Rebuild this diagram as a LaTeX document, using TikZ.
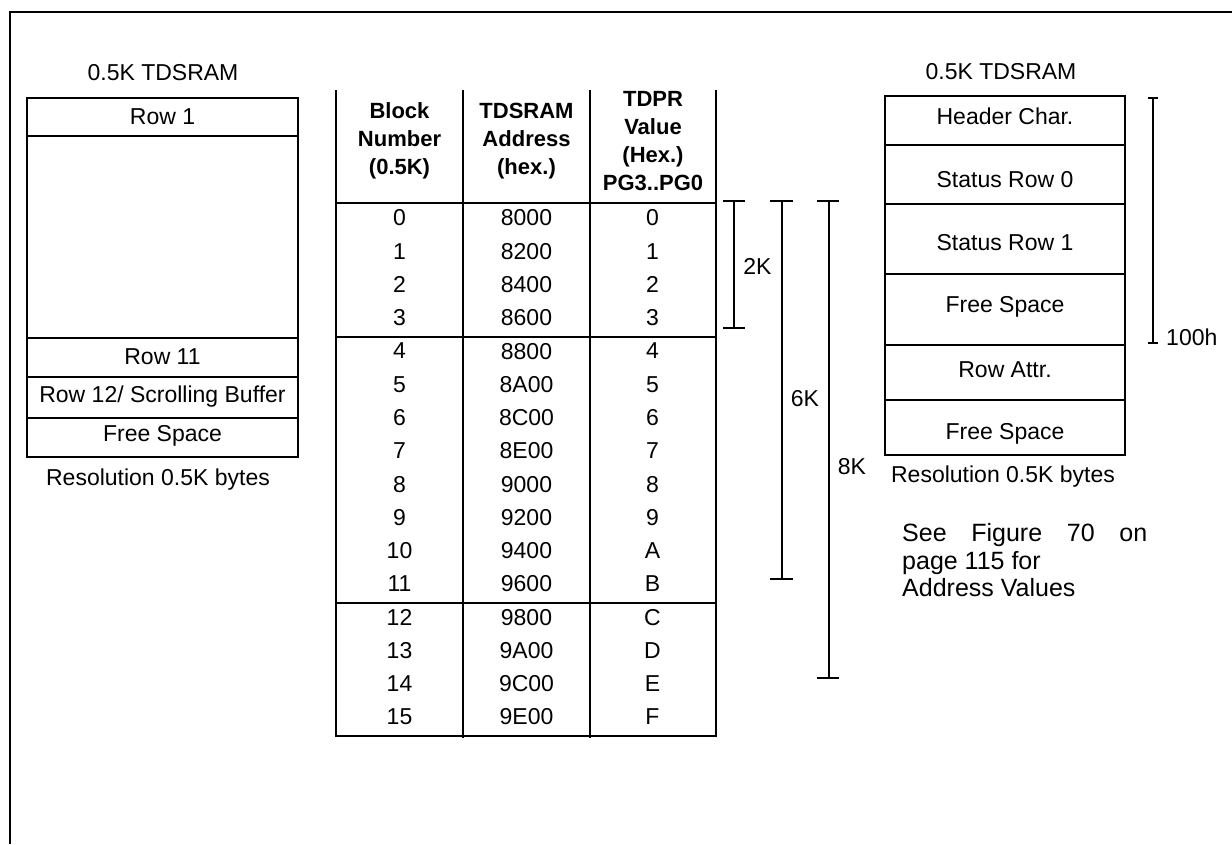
\documentclass[tikz,border=0pt]{standalone}
\usepackage{fontspec}
\setmainfont{Liberation Sans}
\begin{document}
\begin{tikzpicture}[x=1pt,y=-1pt,
  every node/.style={inner sep=0pt},
  txt/.style={font=\fontsize{23}{27}\selectfont},
  hdr/.style={font=\fontsize{22}{28}\selectfont\bfseries, align=center},
  big/.style={font=\fontsize{25}{28}\selectfont, anchor=base west},
  frame/.style={line width=2.5pt},
  boxline/.style={line width=2pt},
  brk/.style={line width=1.4pt}]
\useasboundingbox (0,0) rectangle (1232,844);
% outer frame
\draw[frame] (10,844) -- (10,12) -- (1232,12);

% ---------- left memory block ----------
\node[txt] (ltitle) at (163,73) {0.5K TDSRAM};
\draw[boxline] (26.7,97.7) rectangle (298.3,456.7);
\draw[boxline] (26.7,135.7) -- (298.3,135.7)
               (26.7,337.7) -- (298.3,337.7)
               (26.7,376.7) -- (298.3,376.7)
               (26.7,417.7) -- (298.3,417.7);
\node[txt] (lrow1) at (162.5,117) {Row 1};
\node[txt] (lrow11) at (162.5,357) {Row 11};
\node[txt] (lrow12) at (162.5,397) {Row 12/ Scrolling Buffer};
\node[txt] (lfree) at (162.5,436) {Free Space};
\node[txt] (lres) at (158,480) {Resolution 0.5K bytes};

% ---------- table ----------
\draw[boxline] (336,90) -- (336,736) -- (716,736) -- (716,90);
\draw[boxline] (463,90) -- (463,738) (590,90) -- (590,738);
\draw[boxline] (336,203) -- (716,203)
               (336,337) -- (716,337)
               (336,603) -- (716,603);
\node[hdr] (h1) at (399.5,141) {Block\\Number\\(0.5K)};
\node[hdr] (h2) at (526.5,141) {TDSRAM\\Address\\(hex.)};
\node[hdr] (h3) at (653,141) {TDPR\\Value\\(Hex.)\\PG3..PG0};
\foreach \i/\a/\v in {0/8000/0,1/8200/1,2/8400/2,3/8600/3,4/8800/4,5/8A00/5,
  6/8C00/6,7/8E00/7,8/9000/8,9/9200/9,10/9400/A,11/9600/B,12/9800/C,
  13/9A00/D,14/9C00/E,15/9E00/F}{
  \node[txt] (n\i) at (399.5,218+33.27*\i) {\i};
  \node[txt] (a\i) at (526.5,218+33.27*\i) {\a};
  \node[txt] (v\i) at (652.5,218+33.27*\i) {\v};
}

% ---------- brackets ----------
\draw[brk] (723,201) -- (745,201) (734,201) -- (734,328) (723,328) -- (745,328);
\node[txt] (k2) at (757.5,266) {2K};
\draw[brk] (770,201) -- (793,201) (782,201) -- (782,579) (770,579) -- (793,579);
\node[txt] (k6) at (805,399) {6K};
\draw[brk] (817,201) -- (839,201) (829,201) -- (829,678) (817,678) -- (839,678);
\node[txt] (k8) at (852,467) {8K};

% ---------- right memory block ----------
\node[txt] (rtitle) at (1001,72) {0.5K TDSRAM};
\draw[boxline] (885,96) rectangle (1125,455);
\draw[boxline] (885,145) -- (1125,145)
               (885,204) -- (1125,204)
               (885,274) -- (1125,274)
               (885,345) -- (1125,345)
               (885,400) -- (1125,400);
\node[txt] (rhead) at (1005,116) {Header Char.};
\node[txt] (rst0) at (1005,180) {Status Row 0};
\node[txt] (rst1) at (1005,243) {Status Row 1};
\node[txt] (rfree1) at (1005,307) {Free Space};
\node[txt] (rattr) at (1005,370) {Row Attr.};
\node[txt] (rfree2) at (1005,434) {Free Space};
\node[txt] (rres) at (1003,477) {Resolution 0.5K bytes};
\draw[brk] (1148,98) -- (1158,98) (1153,98) -- (1153,343) (1148,343) -- (1158,343);
\node[txt, anchor=west] (h100) at (1166,337) {100h};

% note
\node[big] (see1) at (902,541) {\makebox[245pt][s]{See Figure 70 on}};
\node[big] (see2) at (902,569) {page 115 for};
\node[big] (see3) at (902,596) {Address Values};
\end{tikzpicture}
\end{document}
